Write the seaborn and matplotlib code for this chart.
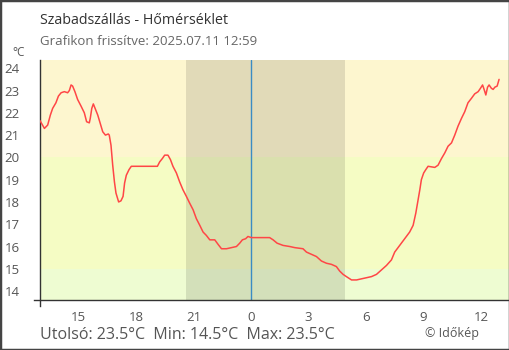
import matplotlib
matplotlib.use("Agg")
import matplotlib.pyplot as plt
from matplotlib.patches import Rectangle
import seaborn as sns
import pandas as pd

# Hours relative to local midnight, and measured temperature (°C)
hours = [
    -11.0, -10.77, -10.6, -10.46, -10.34, -10.17, -10.04, -9.9, -9.73, -9.56,
    -9.47, -9.38, -9.3, -9.18, -9.04, -8.86, -8.69, -8.57, -8.43, -8.38,
    -8.3, -8.22, -8.13, -7.99, -7.87, -7.73, -7.59, -7.44, -7.39, -7.3,
    -7.21, -7.12, -7.04, -6.9, -6.78, -6.67, -6.59, -6.5, -6.36, -6.24,
    -4.88, -4.76, -4.62, -4.5, -4.33, -4.2, -4.07, -3.89, -3.72, -3.55,
    -3.37, -3.2, -3.02, -2.85, -2.67, -2.5, -2.33, -2.15, -1.89, -1.72,
    -1.54, -1.28, -1.02, -0.76, -0.59, -0.45, -0.28, -0.16, 0.02, 0.97,
    1.15, 1.36, 1.67, 2.02, 2.28, 2.71, 2.89, 3.15, 3.41, 3.67,
    3.93, 4.19, 4.45, 4.62, 4.8, 4.97, 5.24, 5.5, 5.76, 6.02,
    6.28, 6.54, 6.8, 7.06, 7.32, 7.49, 7.75, 8.01, 8.27, 8.45,
    8.59, 8.68, 8.8, 8.88, 9.0, 9.11, 9.23, 9.58, 9.75, 9.93,
    10.1, 10.27, 10.45, 10.62, 10.79, 10.97, 11.14, 11.31, 11.49, 11.66,
    11.84, 11.96, 12.07, 12.15, 12.24, 12.33, 12.41, 12.53, 12.62, 12.71,
    12.83, 12.88, 12.93,
]
temps = [
    21.65, 21.3, 21.45, 21.9, 22.2, 22.45, 22.75, 22.9, 22.95, 22.9,
    23.0, 23.25, 23.2, 22.95, 22.6, 22.3, 22.0, 21.6, 21.55, 21.75,
    22.2, 22.4, 22.2, 21.9, 21.55, 21.15, 21.0, 21.05, 21.0, 20.55,
    19.65, 18.9, 18.4, 18.0, 18.05, 18.25, 18.85, 19.2, 19.45, 19.6,
    19.6, 19.8, 19.95, 20.1, 20.1, 19.9, 19.6, 19.3, 18.9, 18.55,
    18.25, 17.95, 17.65, 17.25, 16.95, 16.65, 16.5, 16.3, 16.3, 16.1,
    15.9, 15.9, 15.95, 16.0, 16.15, 16.3, 16.35, 16.45, 16.4, 16.4,
    16.3, 16.15, 16.05, 16.0, 15.95, 15.9, 15.75, 15.65, 15.55, 15.35,
    15.25, 15.2, 15.1, 14.9, 14.75, 14.65, 14.5, 14.5, 14.55, 14.6,
    14.65, 14.75, 14.95, 15.15, 15.4, 15.75, 16.05, 16.35, 16.65, 16.95,
    17.5, 17.95, 18.55, 19.0, 19.3, 19.45, 19.6, 19.55, 19.65, 19.95,
    20.2, 20.5, 20.65, 21.0, 21.4, 21.75, 22.05, 22.45, 22.65, 22.85,
    22.95, 23.1, 23.25, 23.05, 22.8, 23.15, 23.25, 23.1, 23.05, 23.15,
    23.2, 23.35, 23.5,
]

x_ticks = [-9, -6, -3, 0, 3, 6, 9, 12]
x_tick_labels = ["15", "18", "21", "0", "3", "6", "9", "12"]
y_ticks = [14, 15, 16, 17, 18, 19, 20, 21, 22, 23, 24]

sunset, sunrise = -3.4, 4.92
band_limits = [13.6, 15, 20, 24.37]
band_colors = ["#eefcd2", "#f5fcc4", "#fdf6cf"]

title = "Szabadszállás - Hőmérséklet"
subtitle = "Grafikon frissítve: 2025.07.11 12:59"
summary = "Utolsó: 23.5°C  Min: 14.5°C  Max: 23.5°C"
credit = "© Időkép"

sns.set_style("white")
plt.rcParams["font.family"] = ["Open Sans", "DejaVu Sans"]

W, H = 510, 350
fig = plt.figure(figsize=(W / 100, H / 100), dpi=100)
ax = fig.add_axes([40 / W, 50 / H, 470 / W, 240 / H])

xmin, xmax = -11.0, 13.5
ymin, ymax = band_limits[0], band_limits[-1]

for lo, hi, c in zip(band_limits[:-1], band_limits[1:], band_colors):
    ax.axhspan(lo, hi, color=c, lw=0, zorder=0)
ax.axvspan(sunset, sunrise, color="black", alpha=0.11, lw=0, zorder=1)
ax.axvline(0, color="#3a8cc4", lw=1.0, zorder=2)

df = pd.DataFrame({"hour": hours, "temp": temps})
sns.lineplot(data=df, x="hour", y="temp", ax=ax, color="#ff4646",
             lw=1.1, zorder=3)

ax.set_xlim(xmin, xmax)
ax.set_ylim(ymin, ymax)
ax.set_xticks(x_ticks)
ax.set_xticklabels(x_tick_labels)
ax.set_yticks(y_ticks)
ax.set_xlabel("")
ax.set_ylabel("")

for s in ["top", "right"]:
    ax.spines[s].set_visible(False)
for s in ["left", "bottom"]:
    ax.spines[s].set_color("#333333")
    ax.spines[s].set_linewidth(1.0)
ax.spines["bottom"].set_bounds(xmin - 0.31, xmax)
ax.spines["left"].set_bounds(ymin - 0.27, ymax)

ax.tick_params(axis="both", direction="inout", length=9, width=1.0,
               color="#333333", labelcolor="#555555", labelsize=9.5)
ax.tick_params(axis="x", pad=3.5)
ax.tick_params(axis="y", pad=10)

fig.text(40 / W, 1 - 24 / H, title, fontsize=10.3, color="#333333",
         va="baseline", ha="left")
fig.text(40 / W, 1 - 45 / H, subtitle, fontsize=9.5, color="#666666",
         va="baseline", ha="left")
fig.text(12 / W, 1 - 56 / H, "°C", fontsize=8.5, color="#555555",
         va="baseline", ha="left")
fig.text(40 / W, 1 - 339 / H, summary, fontsize=11.5, color="#555555",
         va="baseline", ha="left")
fig.text(425 / W, 1 - 337 / H, credit, fontsize=9, color="#555555",
         va="baseline", ha="left")

fig.patches.append(Rectangle((0, 0), 1, 1, transform=fig.transFigure,
                             fill=False, edgecolor="#444444", lw=2.5,
                             zorder=10))

fig.savefig("out.png", dpi=100)
